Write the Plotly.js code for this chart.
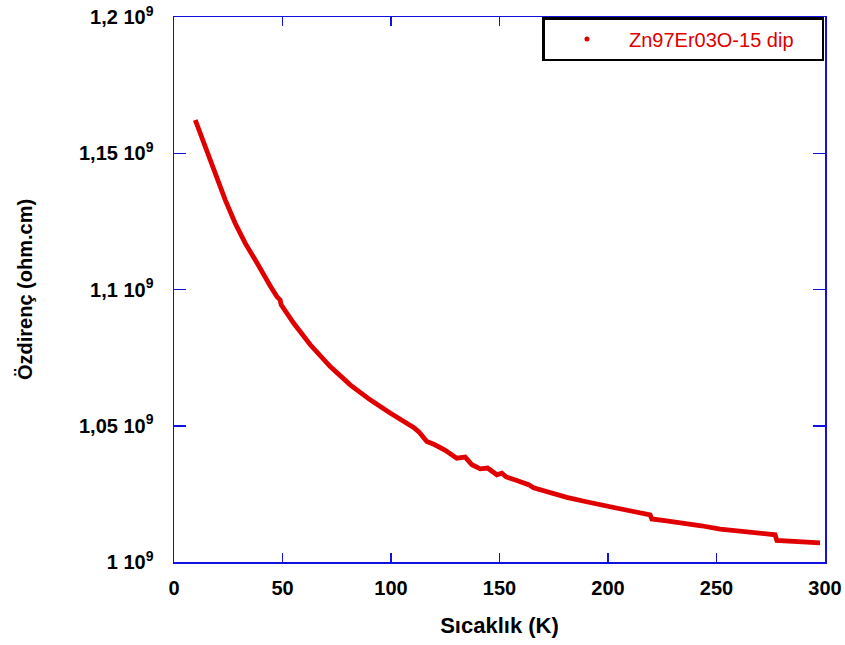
<!DOCTYPE html>
<html>
<head>
<meta charset="utf-8">
<script src="https://cdn.plot.ly/plotly-3.0.1.min.js"></script>
<style>html,body{margin:0;padding:0;background:#fff;}#chart{width:845px;height:645px;}</style>
</head>
<body>
<div id="chart"></div>
<script>
// Temperature (K)
const temperature = [9.8, 14.4, 19.0, 23.6, 28.2, 32.8, 37.4, 41.2, 44.3, 47.4, 48.9, 49.4, 52.0, 55.1, 62.8, 72.0, 81.2, 90.4, 99.6, 106.0, 110.4, 113.0, 116.5, 120.0, 125.0, 130.3, 134.2, 137.3, 141.1, 144.5, 148.8, 151.1, 153.1, 158.0, 163.4, 165.7, 172.0, 181.0, 190.0, 199.5, 210.0, 219.4, 220.2, 227.0, 234.8, 243.0, 251.7, 265.5, 277.0, 277.8, 285.0, 297.7];
// Resistivity (ohm.cm), in units of 1e9
const resistivityE9 = [1.1622, 1.1524, 1.1427, 1.1329, 1.1243, 1.1170, 1.1109, 1.1054, 1.1014, 1.0974, 1.0962, 1.0944, 1.0912, 1.0877, 1.0797, 1.0717, 1.0650, 1.0595, 1.0547, 1.0518, 1.0494, 1.0476, 1.0442, 1.0431, 1.0410, 1.0381, 1.0385, 1.0357, 1.0342, 1.0345, 1.0320, 1.0326, 1.0312, 1.0299, 1.0284, 1.0272, 1.0257, 1.0237, 1.0221, 1.0204, 1.0188, 1.0173, 1.0158, 1.0151, 1.0143, 1.0133, 1.0121, 1.0109, 1.0100, 1.0079, 1.0075, 1.0070];
const seriesName = "Zn97Er03O-15 dip";
const yTickVals = [1.0e9, 1.05e9, 1.1e9, 1.15e9, 1.2e9];
const yTickText = ["1 10<sup>9</sup>", "1,05 10<sup>9</sup>", "1,1 10<sup>9</sup>", "1,15 10<sup>9</sup>", "1,2 10<sup>9</sup>"];
const xTickVals = [0, 50, 100, 150, 200, 250, 300];

const resistivity = resistivityE9.map(v => v * 1e9);
const red = '#e00000';
const blue = '#1010e0';
const FAM = 'Liberation Sans, Arial, sans-serif';

const traces = [
  {
    x: temperature, y: resistivity, type: 'scatter', mode: 'lines',
    line: {color: red, width: 4.8}, showlegend: false, hoverinfo: 'skip'
  },
  {
    x: [null], y: [null], type: 'scatter', mode: 'markers', name: seriesName,
    marker: {color: red, size: 5}, showlegend: true
  }
];

const tickFont = {family: FAM, size: 20, color: '#000', weight: 'bold'};

const layout = {
  width: 845, height: 645,
  margin: {l: 174, r: 20, t: 17, b: 83, pad: 0, autoexpand: false},
  paper_bgcolor: '#fff', plot_bgcolor: '#fff',
  showlegend: true,
  legend: {
    orientation: 'h',
    x: 0.566, y: 1, xanchor: 'left', yanchor: 'top',
    bgcolor: '#fff', bordercolor: '#000', borderwidth: 2.5,
    font: {family: FAM, size: 20, color: red},
    entrywidth: 188, entrywidthmode: 'pixels', itemwidth: 74
  },
  xaxis: {
    range: [0, 300], tickvals: xTickVals, ticktext: xTickVals.map(String),
    showgrid: false, zeroline: false,
    showline: true, linecolor: blue, linewidth: 1.5, mirror: 'allticks',
    ticks: 'inside', ticklen: 9, tickwidth: 1.5, tickcolor: blue,
    tickfont: tickFont, ticklabelstandoff: 7,
    title: {text: 'Sıcaklık (K)', standoff: 20,
      font: {family: FAM, size: 22, color: '#000', weight: 'bold'}},
    automargin: false
  },
  yaxis: {
    range: [1.0e9, 1.2e9], tickvals: yTickVals, ticktext: yTickText,
    showgrid: false, zeroline: false,
    showline: true, linecolor: blue, linewidth: 1.5, mirror: 'allticks',
    ticks: 'inside', ticklen: 12, tickwidth: 1.5, tickcolor: blue,
    tickfont: tickFont, ticklabelstandoff: 15,
    title: {text: 'Özdirenç (ohm.cm)', standoff: 41,
      font: {family: FAM, size: 20, color: '#000', weight: 'bold'}},
    automargin: false
  }
};

Plotly.newPlot('chart', traces, layout, {displayModeBar: false, staticPlot: true});
</script>
</body>
</html>
